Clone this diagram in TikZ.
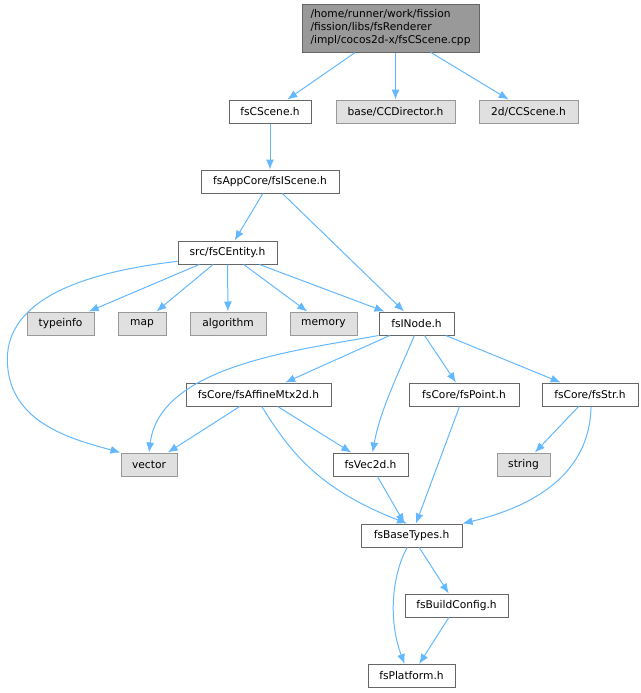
\documentclass[tikz,border=0pt]{standalone}
\usepackage{fontspec}
\setmainfont{DejaVu Sans}
\usetikzlibrary{arrows.meta}

\definecolor{edgeblue}{HTML}{63B8FF}
\definecolor{boxline}{HTML}{666666}
\definecolor{sysline}{HTML}{999999}
\definecolor{sysfill}{HTML}{E0E0E0}
\definecolor{srcfill}{HTML}{999999}

\begin{document}
\begin{tikzpicture}[x=0.75pt,y=-0.75pt,
    font=\fontsize{8}{9.75}\selectfont,
    inc/.style={draw=boxline,fill=white,line width=0.75pt,inner sep=0pt,
      minimum height=17.25pt,minimum width=#1*0.75pt},
    sys/.style={draw=sysline,fill=sysfill,line width=0.75pt,inner sep=0pt,
      minimum height=17.25pt,minimum width=#1*0.75pt},
    srcfile/.style={draw=boxline,fill=srcfill,line width=0.75pt,inner sep=0pt,
      minimum height=36pt,minimum width=#1*0.75pt,align=left},
    dep/.style={draw=edgeblue,line width=0.75pt,-{Latex[length=7.5pt,width=6pt]}}]
      \useasboundingbox (0,0) rectangle (640,693);
      % the file itself
      \node[srcfile=177] (cpp) at (390.5,28) {/home/runner/work/fission\\/fission/libs/fsRenderer\\/impl/cocos2d-x/fsCScene.cpp};
      % first level includes
      \node[inc=82] (cscene) at (270,111.5) {fsCScene.h};
      \node[sys=119] (director) at (395.5,111.5) {base/CCDirector.h};
      \node[sys=99] (ccscene) at (528.5,111.5) {2d/CCScene.h};
      \node[inc=138] (iscene) at (270,181.5) {fsAppCore/fsIScene.h};
      \node[inc=99] (centity) at (227.5,252.5) {src/fsCEntity.h};
      % row of std headers and fsINode.h
      \node[sys=67] (typeinfo) at (60.5,323.5) {typeinfo};
      \node[sys=48] (map) at (142,323.5) {map};
      \node[sys=76] (algorithm) at (228,323.5) {algorithm};
      \node[sys=67] (memory) at (323.5,323.5) {memory};
      \node[inc=75] (inode) at (416.5,323.5) {fsINode.h};
      % core headers
      \node[inc=145] (affine) at (258.5,394.5) {fsCore/fsAffineMtx2d.h};
      \node[inc=110] (point) at (464,394.5) {fsCore/fsPoint.h};
      \node[inc=96] (str) at (590,394.5) {fsCore/fsStr.h};
      \node[sys=56] (vector) at (149,464.5) {vector};
      \node[inc=75] (vec2d) at (370.5,464.5) {fsVec2d.h};
      \node[sys=53] (string) at (523.5,464.5) {string};
      % base
      \node[inc=101] (basetypes) at (411.5,535.5) {fsBaseTypes.h};
      \node[inc=103] (buildconfig) at (456.5,605.5) {fsBuildConfig.h};
      \node[inc=87] (platform) at (411.5,676) {fsPlatform.h};

      % edges from the cpp file
      \draw[dep] (cpp) -- (cscene);
      \draw[dep] (cpp.south -| director) -- (director);
      \draw[dep] (cpp) -- (ccscene);
      \draw[dep] (cscene) -- (iscene);
      \draw[dep] (iscene) -- (centity);
      \draw[dep] (iscene) -- (inode);
      % edges from fsCEntity.h
      \draw[dep] (centity.190) .. controls (60,275) and (0,310) .. (8,370)
                 .. controls (15,425) and (75,440) .. (vector.north west);
      \draw[dep] (centity) -- (typeinfo);
      \draw[dep] (centity) -- (map);
      \draw[dep] (centity) -- (algorithm);
      \draw[dep] (centity) -- (memory);
      \draw[dep] (centity) -- (inode);
      % edges from fsINode.h
      \draw[dep] (inode.south west) .. controls (300,350) and (160,365) .. (vector.north);
      \draw[dep] (inode) -- (affine);
      \draw[dep] (inode.260) .. controls (400,370) and (380,410) .. (vec2d.80);
      \draw[dep] (inode) -- (point);
      \draw[dep] (inode) -- (str);
      % edges from the core headers
      \draw[dep] (affine) -- (vector);
      \draw[dep] (affine) -- (vec2d);
      \draw[dep] (affine.285) .. controls (288,448) and (315,488) .. (basetypes.110);
      \draw[dep] (point) -- (basetypes);
      \draw[dep] (vec2d) -- (basetypes);
      \draw[dep] (str) -- (string);
      \draw[dep] (str.275) .. controls (590,470) and (540,505) .. (basetypes.north east);
      % edges from fsBaseTypes.h
      \draw[dep] (basetypes) -- (buildconfig);
      \draw[dep] (basetypes.250) .. controls (392,575) and (388,620) .. (platform.120);
      \draw[dep] (buildconfig) -- (platform);
\end{tikzpicture}
\end{document}
